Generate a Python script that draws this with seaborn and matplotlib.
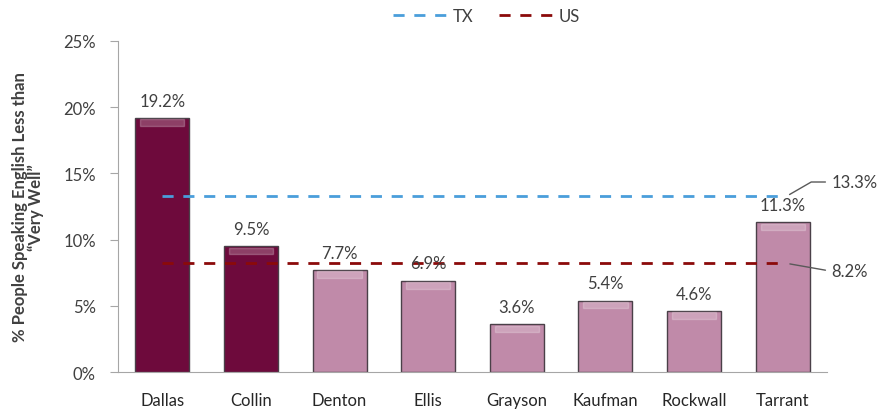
import pandas as pd
import matplotlib.pyplot as plt
import seaborn as sns
from matplotlib.ticker import PercentFormatter

counties = ['Dallas', 'Collin', 'Denton', 'Ellis', 'Grayson', 'Kaufman', 'Rockwall', 'Tarrant']
pct = [19.2, 9.5, 7.7, 6.9, 3.6, 5.4, 4.6, 11.3]
tx_rate = 13.3
us_rate = 8.2

dark = '#6E0A3C'
light = '#C08AA9'
bar_colors = [dark, dark] + [light] * 6
text_col = '#404040'

sns.set_style('white')
plt.rcParams['font.family'] = ['Lato', 'DejaVu Sans']

df = pd.DataFrame({'county': counties, 'pct': pct})

fig = plt.figure(figsize=(8.85, 4.10), dpi=100)
ax = fig.add_axes([0.1333, 0.0902, 0.8012, 0.8074])

sns.barplot(data=df, x='county', y='pct', hue='county', palette=bar_colors, saturation=1,
            legend=False, width=0.61, edgecolor='#4a4048', linewidth=1.0, ax=ax)

# bevel-ish highlight on top of each bar
for i, v in enumerate(pct):
    ax.bar(i, 0.5, bottom=v - 0.6, width=0.5, color='white', alpha=0.22, zorder=3)

# value labels
for i, v in enumerate(pct):
    ax.text(i, v + 0.7, f'{v:.1f}%', ha='center', va='bottom', fontsize=12, color=text_col)

# reference lines
ax.plot([0, len(counties) - 1], [tx_rate, tx_rate], ls=(0, (4, 3.5)), lw=2, color='#4A9EDB', label='TX')
ax.plot([0, len(counties) - 1], [us_rate, us_rate], ls=(0, (4, 3.5)), lw=2, color='#8B0A0A', label='US')

ax.annotate(f'{tx_rate}%', xy=(7.05, tx_rate), xytext=(7.55, tx_rate + 1.05),
            ha='left', va='center', fontsize=12, color=text_col, annotation_clip=False,
            arrowprops=dict(arrowstyle='-', color='#595959', lw=1,
                            connectionstyle='angle,angleA=0,angleB=30,rad=0'))
ax.annotate(f'{us_rate}%', xy=(7.05, us_rate), xytext=(7.55, us_rate - 0.6),
            ha='left', va='center', fontsize=12, color=text_col, annotation_clip=False,
            arrowprops=dict(arrowstyle='-', color='#595959', lw=1,
                            connectionstyle='angle,angleA=0,angleB=-10,rad=0'))

ax.set_xlim(-0.5, 7.5)
ax.set_ylim(0, 25)
ax.set_yticks([0, 5, 10, 15, 20, 25])
ax.yaxis.set_major_formatter(PercentFormatter(decimals=0))
ax.tick_params(axis='y', left=True, length=6, color='#A6A6A6', labelsize=12, labelcolor=text_col, pad=10)
ax.tick_params(axis='x', bottom=False, labelsize=12, labelcolor='#262626', pad=11)
ax.set_xlabel('')
ax.set_ylabel('% People Speaking English Less than\n\u201cVery Well\u201d', fontsize=12,
              color=text_col, fontweight='bold', linespacing=0.95, labelpad=14)

sns.despine(ax=ax, top=True, right=True)
ax.spines['left'].set_color('#A6A6A6')
ax.spines['bottom'].set_color('#A6A6A6')

ax.legend(loc='lower center', bbox_to_anchor=(0.52, 1.0), ncol=2, frameon=False,
          fontsize=12, handlelength=3.5, handletextpad=0.1, columnspacing=1.5,
          labelcolor=text_col, borderaxespad=0.6)

fig.savefig('out.png', dpi=100)
